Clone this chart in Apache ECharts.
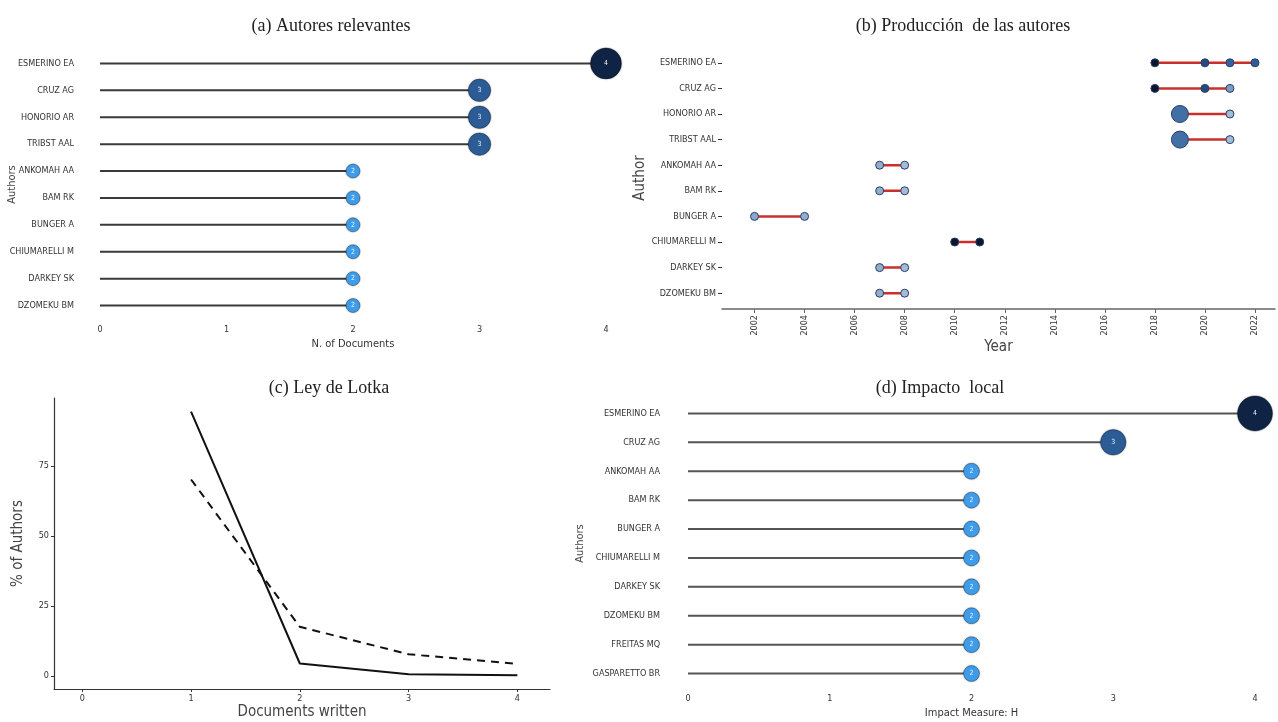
<!DOCTYPE html>
<html style="height: 100%">
<head>
<meta charset="utf-8">
</head>
<body style="height: 100%; margin: 0; background: #fff">
<div id="container" style="width: 1278px; height: 722px"></div>
<script type="text/javascript" src="https://cdn.jsdelivr.net/npm/echarts@6/dist/echarts.min.js"></script>
<script type="text/javascript">
// (a) most relevant authors
var relAuthors = ['ESMERINO EA', 'CRUZ AG', 'HONORIO AR', 'TRIBST AAL', 'ANKOMAH AA', 'BAM RK', 'BUNGER A', 'CHIUMARELLI M', 'DARKEY SK', 'DZOMEKU BM'];
var relDocs = [4, 3, 3, 3, 2, 2, 2, 2, 2, 2];

// (b) authors' production over time
var prodAuthors = ['ESMERINO EA', 'CRUZ AG', 'HONORIO AR', 'TRIBST AAL', 'ANKOMAH AA', 'BAM RK', 'BUNGER A', 'CHIUMARELLI M', 'DARKEY SK', 'DZOMEKU BM'];
var prodYears = [[2018, 2020, 2021, 2022], [2018, 2020, 2021], [2019, 2021], [2019, 2021], [2007, 2008], [2007, 2008], [2002, 2004], [2010, 2011], [2007, 2008], [2007, 2008]];
var prodArticles = [[1, 1, 1, 1], [1, 1, 1], [2, 1], [2, 1], [1, 1], [1, 1], [1, 1], [1, 1], [1, 1], [1, 1]];
var prodTcYear = [[9, 6, 4.5, 5], [9, 6, 2], [4, 0.6], [4, 0.6], [1.2, 0.6], [1.2, 0.6], [1.5, 1.2], [9, 9], [1.2, 0.6], [1.2, 0.6]];
var yearTicks = [2002, 2004, 2006, 2008, 2010, 2012, 2014, 2016, 2018, 2020, 2022];

// (c) Lotka's law
var lotkaDocs = [1, 2, 3, 4];
var lotkaObserved = [94.4, 4.5, 0.7, 0.3];
var lotkaTheoretical = [70.2, 17.6, 7.8, 4.4];

// (d) local impact
var impactAuthors = ['ESMERINO EA', 'CRUZ AG', 'ANKOMAH AA', 'BAM RK', 'BUNGER A', 'CHIUMARELLI M', 'DARKEY SK', 'DZOMEKU BM', 'FREITAS MQ', 'GASPARETTO BR'];
var impactH = [4, 3, 2, 2, 2, 2, 2, 2, 2, 2];

var dom = document.getElementById('container');
var myChart = echarts.init(dom);

var labelFont = 'DejaVu Sans Condensed, DejaVu Sans, sans-serif';
var titleFont = 'Liberation Serif, DejaVu Serif, serif';

function bubbleColor(v) {
    if (v >= 4) return '#0f2444';
    if (v >= 3) return '#2c5c96';
    return '#3e9ce9';
}
function tcColor(t) {
    return echarts.color.lerp(Math.min(t / 9, 1), ['#b6c7df', '#3564a0', '#0a1530']);
}

var titleStyle = { fontFamily: titleFont, fontSize: 18, fontWeight: 'normal', color: '#222' };
function title(text, x, y) {
    return { text: text, left: x, top: y, textAlign: 'center', textStyle: titleStyle };
}

function catAxis(gridIndex, data, margin, name, gap) {
    return {
        type: 'category', gridIndex: gridIndex, data: data, inverse: true,
        axisLine: { show: false }, axisTick: { show: false },
        axisLabel: { margin: margin, fontFamily: labelFont, fontSize: 9, color: '#333' },
        name: name, nameLocation: 'middle', nameGap: gap, nameRotate: 90, nameMoveOverlap: false,
        nameTextStyle: { fontFamily: labelFont, fontSize: 11, color: '#444' }
    };
}
function lollipopX(gridIndex, name) {
    return {
        type: 'value', gridIndex: gridIndex, min: 0, max: 4, interval: 1,
        axisLine: { show: false }, axisTick: { show: false }, splitLine: { show: false },
        axisLabel: { margin: 6, fontFamily: labelFont, fontSize: 9, color: '#333' },
        name: name, nameLocation: 'middle', nameGap: 20,
        nameTextStyle: { fontFamily: labelFont, fontSize: 11, color: '#333' }
    };
}
function stems(idx, values, color) {
    return {
        type: 'bar', xAxisIndex: idx, yAxisIndex: idx, data: values, barWidth: 2,
        itemStyle: { color: color }, silent: true, z: 2
    };
}
function bubbles(idx, values, a, b) {
    return {
        type: 'scatter', xAxisIndex: idx, yAxisIndex: idx, z: 5,
        data: values.map(function (v, i) { return [v, i]; }),
        symbolSize: function (d) { return a * d[0] + b; },
        itemStyle: {
            color: function (p) { return bubbleColor(p.data[0]); },
            borderColor: 'rgba(0,0,0,0.3)', borderWidth: 1, opacity: 1,
            shadowBlur: 2, shadowColor: 'rgba(0,0,0,0.3)'
        },
        label: {
            show: true, position: 'inside', color: '#e8f2ff', fontSize: 7, fontFamily: labelFont,
            formatter: function (p) { return p.data[0]; }
        }
    };
}

// production series: red segments + points
var prodSeries = [];
prodYears.forEach(function (ys, i) {
    prodSeries.push({
        type: 'line', xAxisIndex: 1, yAxisIndex: 1, showSymbol: false, silent: true, z: 3,
        data: [[Math.min.apply(null, ys), i], [Math.max.apply(null, ys), i]],
        lineStyle: { color: '#c9302c', width: 2.5 }
    });
});
var prodPoints = [];
prodYears.forEach(function (ys, i) {
    ys.forEach(function (y, j) {
        prodPoints.push([y, i, prodArticles[i][j], prodTcYear[i][j]]);
    });
});
prodSeries.push({
    type: 'scatter', xAxisIndex: 1, yAxisIndex: 1, z: 5, data: prodPoints,
    symbolSize: function (d) { return d[2] > 1 ? 17 : 8; },
    itemStyle: {
        color: function (p) { return tcColor(p.data[3]); },
        borderColor: '#2a3f66', borderWidth: 1, opacity: 1
    }
});

option = {
    animation: false,
    backgroundColor: '#fff',
    title: [
        title('(a) Autores relevantes', 326, 12),
        title('(b) Producción  de las autores', 958, 12),
        title('(c) Ley de Lotka', 324, 374),
        title('(d) Impacto  local', 935, 374)
    ],
    grid: [
        { left: 100, top: 50, width: 506, height: 269, outerBoundsMode: 'none' },
        { left: 722, top: 50, width: 553, height: 256, outerBoundsMode: 'none' },
        { left: 54, top: 398, width: 496, height: 291, outerBoundsMode: 'none' },
        { left: 688, top: 399, width: 567, height: 289, outerBoundsMode: 'none' }
    ],
    xAxis: [
        lollipopX(0, 'N. of Documents'),
        {
            type: 'value', gridIndex: 1, min: 2000.7, max: 2022.8,
            axisLine: { show: true, lineStyle: { color: '#666', width: 1.5 } },
            axisTick: { show: true, customValues: yearTicks, length: 4, lineStyle: { color: '#666' } },
            splitLine: { show: false },
            offset: 3,
            axisLabel: {
                customValues: yearTicks, rotate: 90, margin: 6, fontFamily: labelFont, fontSize: 9, color: '#333',
                formatter: function (v) { return String(v); }
            },
            name: 'Year', nameLocation: 'middle', nameGap: 29,
            nameTextStyle: { fontFamily: labelFont, fontSize: 15, color: '#444' }
        },
        {
            type: 'value', gridIndex: 2, min: -0.26, max: 4.3,
            axisLine: { show: true, onZero: false, lineStyle: { color: '#333', width: 1.2 } },
            axisTick: { show: true, customValues: [0, 1, 2, 3, 4], length: 3, lineStyle: { color: '#333' } },
            splitLine: { show: false },
            axisLabel: { customValues: [0, 1, 2, 3, 4], margin: 5, fontFamily: labelFont, fontSize: 9, color: '#333' },
            name: 'Documents written', nameLocation: 'middle', nameGap: 16,
            nameTextStyle: { fontFamily: labelFont, fontSize: 15, color: '#444' }
        },
        lollipopX(3, 'Impact Measure: H')
    ],
    yAxis: [
        catAxis(0, relAuthors, 26, 'Authors', 82),
        {
            type: 'category', gridIndex: 1, data: prodAuthors, inverse: true,
            axisLine: { show: false },
            axisTick: { show: true, alignWithLabel: true, length: 4, lineStyle: { color: '#333' } },
            axisLabel: { margin: 6, fontFamily: labelFont, fontSize: 9, color: '#333' },
            name: 'Author', nameLocation: 'middle', nameGap: 62, nameRotate: 90,
            nameTextStyle: { fontFamily: labelFont, fontSize: 15, color: '#444' }
        },
        {
            type: 'value', gridIndex: 2, min: -4.6, max: 99.3,
            axisLine: { show: true, onZero: false, lineStyle: { color: '#333', width: 1.2 } },
            axisTick: { show: true, customValues: [0, 25, 50, 75], length: 3, lineStyle: { color: '#333' } },
            splitLine: { show: false },
            axisLabel: { customValues: [0, 25, 50, 75], margin: 5, fontFamily: labelFont, fontSize: 9, color: '#333' },
            name: '% of Authors', nameLocation: 'middle', nameGap: 28,
            nameTextStyle: { fontFamily: labelFont, fontSize: 15, color: '#444' }
        },
        catAxis(3, impactAuthors, 28, 'Authors', 102)
    ],
    series: [
        stems(0, relDocs, '#3a3a3a'),
        bubbles(0, relDocs, 8.5, -3),
        {
            type: 'line', xAxisIndex: 2, yAxisIndex: 2, showSymbol: false,
            data: lotkaDocs.map(function (d, i) { return [d, lotkaObserved[i]]; }),
            lineStyle: { color: '#111', width: 2 }
        },
        {
            type: 'line', xAxisIndex: 2, yAxisIndex: 2, showSymbol: false,
            data: lotkaDocs.map(function (d, i) { return [d, lotkaTheoretical[i]]; }),
            lineStyle: { color: '#111', width: 2, type: [8, 6] }
        },
        stems(3, impactH, '#555'),
        bubbles(3, impactH, 9.5, -3)
    ]
};
// placed after the lollipops so indices above stay readable
option.series = option.series.concat(prodSeries);

if (option && typeof option === 'object') {
    myChart.setOption(option, true);
}
</script>
</body>
</html>
